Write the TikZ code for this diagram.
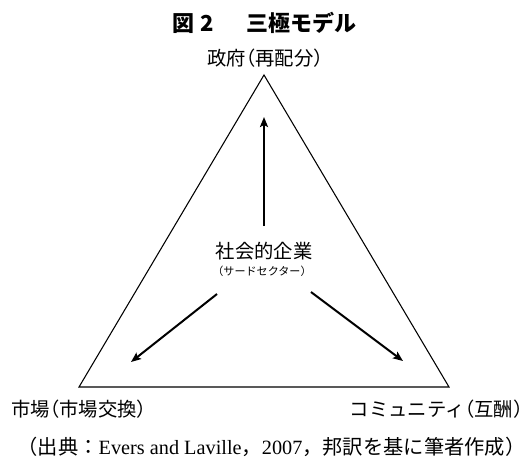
\documentclass[tikz,border=0pt]{standalone}
\usepackage{fontspec}
\setmainfont{Liberation Serif}
\newfontfamily\cjk{Noto Sans CJK JP}
\newfontfamily\cjkh{Noto Sans CJK JP}[RawFeature=+halt]
\usetikzlibrary{arrows.meta}
\newcommand{\lpar}{{\cjkh （}}
\newcommand{\rpar}{{\cjkh ）}}
\tikzset{
  edge/.style={line width=0.8pt, line join=miter},
  flow/.style={line width=1.5pt, -{Stealth[length=7.5pt,width=6pt,inset=1.5pt]}},
  lbl/.style={font=\cjk\fontsize{14.5pt}{16pt}\selectfont, inner sep=0pt},
  sublbl/.style={font=\cjk\fontsize{8.3pt}{9pt}\selectfont, inner sep=0pt},
  ttl/.style={font=\cjk\bfseries\fontsize{16.5pt}{18pt}\selectfont, inner sep=0pt},
  captxt/.style={font=\fontsize{15.2pt}{17pt}\selectfont, inner sep=0pt},
}
\begin{document}
\begin{tikzpicture}[x=0.75pt,y=-0.75pt]
\useasboundingbox (0,0) rectangle (527,457);
\fill[white] (0,0) rectangle (527,457);
% title
\node[ttl, anchor=west] (title) at (172,23) {図\hspace{0.3em}2\hspace{1.45em}三極モデル};
% triangle corners
\coordinate (A) at (264,75);
\coordinate (B) at (79,387);
\coordinate (C) at (449,387);
\draw[edge] (A) -- (B) -- (C) -- cycle;
% labels
\node[lbl] (gov) at (265,58) {政府\lpar 再配分\rpar};
\node[lbl, anchor=west] (market) at (11,409) {市場\lpar 市場交換\rpar};
\node[lbl, anchor=east] (community) at (523,409) {コミュニティ\lpar 互酬\rpar};
\node[lbl] (se) at (264,251.5) {社会的企業};
\node[sublbl] (sector) at (262,271) {（サードセクター）};
% arrows
\coordinate (u0) at (264,226);
\coordinate (u1) at (264,117);
\coordinate (l0) at (217,294);
\coordinate (l1) at (131,362);
\coordinate (r0) at (311,292);
\coordinate (r1) at (403,361);
\draw[flow] (u0) -- (u1);
\draw[flow] (l0) -- (l1);
\draw[flow] (r0) -- (r1);
% caption
\node[captxt] (caption) at (271.5,447) {{\cjkh （}{\cjk 出典：}Evers and Laville{\cjk ，}2007{\cjk ，邦訳を基に筆者作成}{\cjkh ）}};
\end{tikzpicture}
\end{document}
